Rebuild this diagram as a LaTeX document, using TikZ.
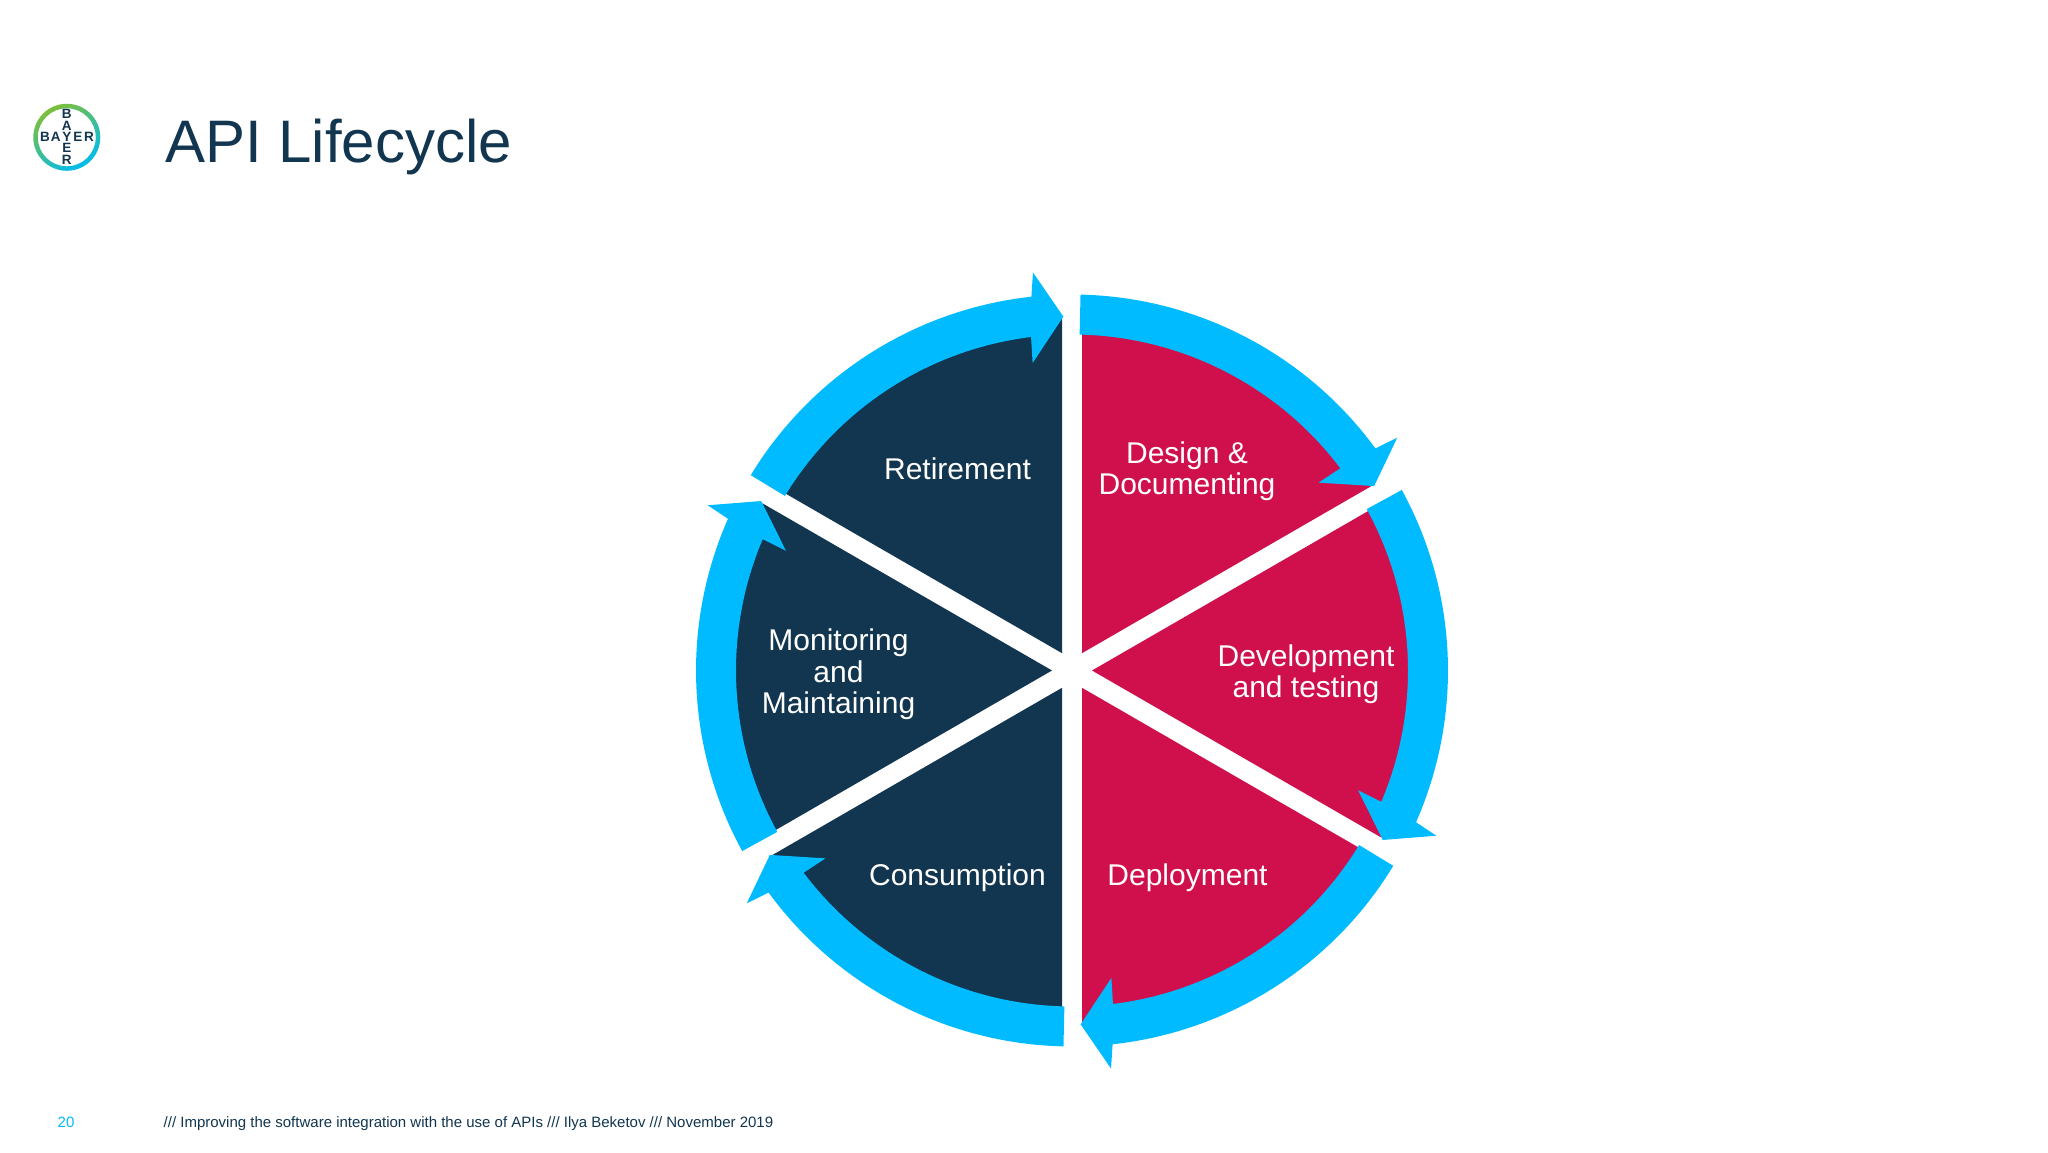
\documentclass[tikz,border=0pt]{standalone}
\usepackage{fontspec}
\setmainfont{Liberation Sans}
\usepackage{tikz}
\definecolor{lifenavy}{HTML}{12364F}
\definecolor{lifered}{HTML}{D0104C}
\definecolor{lifecyan}{HTML}{00BBFF}
\definecolor{logogreen}{HTML}{7DBF3A}
\definecolor{logocyan}{HTML}{00BCF0}
\tikzset{
	phase/.style={text=white,align=center,inner sep=0pt,font=\fontsize{30}{31.3}\selectfont},
	ringarrow/.style={fill=lifecyan},
	logoletter/.style={text=lifenavy,inner sep=0pt,font=\fontsize{13.5}{14}\selectfont\bfseries},
	footer/.style={anchor=base west,inner sep=0pt,font=\fontsize{15}{16}\selectfont}
}
\newcommand{\LifeWedge}[2]{\fill[#2,shift={(hub)},rotate=#1] (60:20) -- (31.63:352) -- (37:337) arc[start angle=37,end angle=88.3,radius=337] -- cycle;}
\newcommand{\LifeArrow}[1]{\fill[ringarrow,shift={(hub)},rotate=#1] (88.7:376) arc[start angle=88.7,end angle=36.2,radius=376] -- (35.6:400) -- (31.4:354) -- (37.3:310) -- (37:336) arc[start angle=37,end angle=88.7,radius=336] -- cycle;}
\begin{document}
\begin{tikzpicture}[x=1pt,y=1pt]
\useasboundingbox (0,0) rectangle (2048,1152);
\fill[white] (0,0) rectangle (2048,1152);
\coordinate (hub) at (1072,481.5);

	\LifeWedge{0}{lifered}
	\LifeWedge{-60}{lifered}
	\LifeWedge{-120}{lifered}
	\LifeWedge{-180}{lifenavy}
	\LifeWedge{-240}{lifenavy}
	\LifeWedge{-300}{lifenavy}

	\LifeArrow{0}
	\LifeArrow{-60}
	\LifeArrow{-120}
	\LifeArrow{-180}
	\LifeArrow{-240}
	\LifeArrow{-300}

	\node[phase] (design) at (1187,681) {Design \&\\Documenting};
	\node[phase] (develop) at (1306,477.5) {Development\\and testing};
	\node[phase] (deploy) at (1187.5,274) {Deployment};
	\node[phase] (consume) at (957.5,274) {Consumption};
	\node[phase] (monitor) at (838.5,477.5) {Monitoring\\and\\Maintaining};
	\node[phase] (retire) at (957.5,683) {Retirement};

	\node[anchor=base west,inner sep=0pt,text=lifenavy,font=\fontsize{60}{60}\selectfont] (title) at (165,989) {API Lifecycle};
	\node[footer,text=lifecyan] (page) at (57.5,25) {20};
	\node[footer,text=lifenavy] (credit) at (163.5,25) {/// Improving the software integration with the use of APIs /// Ilya Beketov /// November 2019};

	\shade[even odd rule,shading=axis,bottom color=logocyan,top color=logogreen,shading angle=30] (66.8,1014.7) circle (33.5) (66.8,1014.7) circle (29);
	\node[logoletter] (logoB) at (45,1014.7) {B};
	\node[logoletter] (logoA) at (55.8,1014.7) {A};
	\node[logoletter] (logoY) at (66.8,1014.7) {Y};
	\node[logoletter] (logoE) at (78,1014.7) {E};
	\node[logoletter] (logoR) at (89,1014.7) {R};
	\node[logoletter] (logoBB) at (66.8,1037.7) {B};
	\node[logoletter] (logoAA) at (66.8,1026.2) {A};
	\node[logoletter] (logoEE) at (66.8,1003.7) {E};
	\node[logoletter] (logoRR) at (66.8,992.2) {R};
\end{tikzpicture}
\end{document}
